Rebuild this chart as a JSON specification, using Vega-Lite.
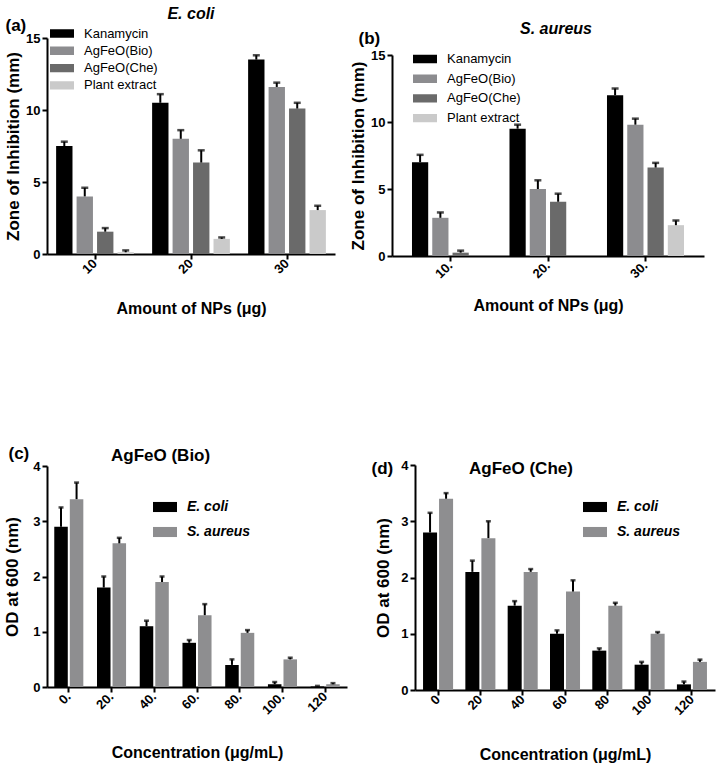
{
  "$schema": "https://vega.github.io/schema/vega-lite/v6.json",
  "background": "white",
  "padding": {"left": 3, "top": 6, "right": 2, "bottom": 2},
  "autosize": {"type": "pad"},
  "config": {
    "font": "Liberation Sans",
    "view": {"stroke": null},
    "axis": {"domainColor": "black", "domainWidth": 2, "tickColor": "black", "tickWidth": 2, "tickSize": 5,
      "labelFont": "Liberation Sans", "labelFontWeight": "bold", "labelFontSize": 13, "labelColor": "black", "labelPadding": 2,
      "titleFont": "Liberation Sans", "titleFontWeight": "bold", "titleFontSize": 16, "titleColor": "black", "grid": false,
      "labelFlush": false, "labelOverlap": false},
    "axisY": {"titleFontSize": 17},
    "title": {"font": "Liberation Sans", "fontWeight": "bold", "fontSize": 16, "color": "black"},
    "legend": {"labelFont": "Liberation Sans", "labelColor": "black", "symbolStrokeWidth": 0, "symbolOpacity": 1, "padding": 0, "labelOffset": 10}
  },
  "datasets": {
    "a": [
      {"amount": "10", "group": "Kanamycin", "value": 7.5, "hi": 7.8},
      {"amount": "10", "group": "AgFeO(Bio)", "value": 4.0, "hi": 4.6},
      {"amount": "10", "group": "AgFeO(Che)", "value": 1.55, "hi": 1.8},
      {"amount": "10", "group": "Plant extract", "value": 0.12, "hi": 0.25},
      {"amount": "20", "group": "Kanamycin", "value": 10.5, "hi": 11.1},
      {"amount": "20", "group": "AgFeO(Bio)", "value": 8.0, "hi": 8.6},
      {"amount": "20", "group": "AgFeO(Che)", "value": 6.35, "hi": 7.2},
      {"amount": "20", "group": "Plant extract", "value": 1.05, "hi": 1.15},
      {"amount": "30", "group": "Kanamycin", "value": 13.5, "hi": 13.8},
      {"amount": "30", "group": "AgFeO(Bio)", "value": 11.6, "hi": 11.9},
      {"amount": "30", "group": "AgFeO(Che)", "value": 10.1, "hi": 10.5},
      {"amount": "30", "group": "Plant extract", "value": 3.05, "hi": 3.35}
    ],
    "b": [
      {"amount": "10.", "group": "Kanamycin", "value": 7.0, "hi": 7.55},
      {"amount": "10.", "group": "AgFeO(Bio)", "value": 2.85, "hi": 3.25},
      {"amount": "10.", "group": "AgFeO(Che)", "value": 0.25, "hi": 0.4},
      {"amount": "10.", "group": "Plant extract", "value": 0, "hi": null},
      {"amount": "20.", "group": "Kanamycin", "value": 9.5, "hi": 9.8},
      {"amount": "20.", "group": "AgFeO(Bio)", "value": 5.0, "hi": 5.65},
      {"amount": "20.", "group": "AgFeO(Che)", "value": 4.05, "hi": 4.65},
      {"amount": "20.", "group": "Plant extract", "value": 0, "hi": null},
      {"amount": "30.", "group": "Kanamycin", "value": 12.0, "hi": 12.5},
      {"amount": "30.", "group": "AgFeO(Bio)", "value": 9.8, "hi": 10.25},
      {"amount": "30.", "group": "AgFeO(Che)", "value": 6.6, "hi": 6.95},
      {"amount": "30.", "group": "Plant extract", "value": 2.3, "hi": 2.65}
    ],
    "c": [
      {"conc": "0.", "org": "E. coli", "value": 2.9, "hi": 3.25},
      {"conc": "0.", "org": "S. aureus", "value": 3.4, "hi": 3.7},
      {"conc": "20.", "org": "E. coli", "value": 1.8, "hi": 2.0},
      {"conc": "20.", "org": "S. aureus", "value": 2.6, "hi": 2.7},
      {"conc": "40.", "org": "E. coli", "value": 1.1, "hi": 1.2},
      {"conc": "40.", "org": "S. aureus", "value": 1.9, "hi": 2.0},
      {"conc": "60.", "org": "E. coli", "value": 0.8, "hi": 0.85},
      {"conc": "60.", "org": "S. aureus", "value": 1.3, "hi": 1.5},
      {"conc": "80.", "org": "E. coli", "value": 0.4, "hi": 0.5},
      {"conc": "80.", "org": "S. aureus", "value": 0.98, "hi": 1.03},
      {"conc": "100.", "org": "E. coli", "value": 0.05, "hi": 0.09},
      {"conc": "100.", "org": "S. aureus", "value": 0.5, "hi": 0.53},
      {"conc": "120", "org": "E. coli", "value": 0.01, "hi": 0.02},
      {"conc": "120", "org": "S. aureus", "value": 0.05, "hi": 0.07}
    ],
    "d": [
      {"conc": "0", "org": "E. coli", "value": 2.8, "hi": 3.15},
      {"conc": "0", "org": "S. aureus", "value": 3.4, "hi": 3.5},
      {"conc": "20", "org": "E. coli", "value": 2.1, "hi": 2.3},
      {"conc": "20", "org": "S. aureus", "value": 2.7, "hi": 3.0},
      {"conc": "40", "org": "E. coli", "value": 1.5, "hi": 1.58},
      {"conc": "40", "org": "S. aureus", "value": 2.1, "hi": 2.15},
      {"conc": "60", "org": "E. coli", "value": 1.0, "hi": 1.06},
      {"conc": "60", "org": "S. aureus", "value": 1.75, "hi": 1.95},
      {"conc": "80", "org": "E. coli", "value": 0.7, "hi": 0.74},
      {"conc": "80", "org": "S. aureus", "value": 1.5, "hi": 1.55},
      {"conc": "100", "org": "E. coli", "value": 0.45, "hi": 0.5},
      {"conc": "100", "org": "S. aureus", "value": 1.0, "hi": 1.03},
      {"conc": "120", "org": "E. coli", "value": 0.1, "hi": 0.15},
      {"conc": "120", "org": "S. aureus", "value": 0.5, "hi": 0.54}
    ]
  },
  "spacing": 127,
  "resolve": {"scale": {"x": "independent", "y": "independent", "xOffset": "independent", "color": "independent"}, "legend": {"color": "independent"}, "axis": {"x": "independent", "y": "independent"}},
  "vconcat": [
    {
      "spacing": 14,
      "resolve": {"scale": {"x": "independent", "y": "independent", "xOffset": "independent", "color": "independent"}, "legend": {"color": "independent"}, "axis": {"x": "independent", "y": "independent"}},
      "hconcat": [
        {
          "width": 288, "height": 216,
          "title": {"text": "E. coli", "fontStyle": "italic", "fontSize": 16, "offset": -6},
          "data": {"name": "a"},
          "resolve": {"axis": {"x": "independent"}},
          "layer": [
            {"mark": {"type": "bar"},
              "encoding": {
                "x": {"field": "amount", "type": "nominal", "sort": null, "title": "Amount of NPs (μg)",
                  "scale": {"paddingInner": 0.19, "paddingOuter": 0.095},
                  "axis": {"labelAngle": -45, "labelAlign": "right", "labelBaseline": "middle", "titlePadding": 24}},
                "xOffset": {"field": "group", "type": "nominal", "sort": null, "scale": {"paddingInner": 0.2, "paddingOuter": 0}},
                "y": {"field": "value", "type": "quantitative", "title": "Zone of Inhibition (mm)", "scale": {"domain": [0, 15], "nice": false}, "axis": {"values": [0, 5, 10, 15], "format": "d", "titlePadding": 3}},
                "color": {"field": "group", "type": "nominal", "sort": null,
                  "scale": {"range": ["#000000", "#8c8c8f", "#6a6a6a", "#cacaca"]},
                  "legend": {"title": null, "orient": "none", "legendX": 3, "legendY": -11, "direction": "vertical", "clipHeight": 13,
                    "symbolType": "M-1,-0.35H1V0.35H-1Z", "symbolSize": 576, "labelFontSize": 13, "rowPadding": 3.3}}
              }},
            {"mark": {"type": "rule", "color": "black", "strokeWidth": 2},
              "encoding": {
                "x": {"field": "amount", "type": "nominal", "sort": null, "axis": null},
                "xOffset": {"field": "group", "type": "nominal", "sort": null},
                "y": {"field": "value", "type": "quantitative", "title": "Zone of Inhibition (mm)"}, "y2": {"field": "hi"}}},
            {"mark": {"type": "tick", "color": "black", "thickness": 2.5, "size": 7},
              "encoding": {
                "x": {"field": "amount", "type": "nominal", "sort": null, "title": "(a)",
                  "axis": {"orient": "top", "domain": false, "ticks": false, "labels": false, "titleAnchor": "start", "titleAlign": "left", "titleBaseline": "top", "titleX": -42, "titleY": -21, "titleFontSize": 17}},
                "xOffset": {"field": "group", "type": "nominal", "sort": null},
                "y": {"field": "hi", "type": "quantitative", "title": "Zone of Inhibition (mm)"}}}
          ]
        },
        {
          "width": 312, "height": 218,
          "title": {"text": "S. aureus", "fontStyle": "italic", "fontSize": 16, "offset": -8, "dx": 8},
          "data": {"name": "b"},
          "resolve": {"axis": {"x": "independent"}},
          "layer": [
            {"mark": {"type": "bar"},
              "encoding": {
                "x": {"field": "amount", "type": "nominal", "sort": null, "title": "Amount of NPs (μg)",
                  "scale": {"paddingInner": 0.21, "paddingOuter": 0.205},
                  "axis": {"labelAngle": -45, "labelAlign": "right", "labelBaseline": "middle", "titlePadding": 17}},
                "xOffset": {"field": "group", "type": "nominal", "sort": null, "scale": {"paddingInner": 0.2, "paddingOuter": 0}},
                "y": {"field": "value", "type": "quantitative", "title": "Zone of Inhibition (mm)", "scale": {"domain": [0, 15], "nice": false, "range": [218, 17]}, "axis": {"values": [0, 5, 10, 15], "format": "d", "titlePadding": 3}},
                "color": {"field": "group", "type": "nominal", "sort": null,
                  "scale": {"range": ["#000000", "#8c8c8f", "#6a6a6a", "#cacaca"]},
                  "legend": {"title": null, "orient": "none", "legendX": 21, "legendY": 14.5, "direction": "vertical", "clipHeight": 13,
                    "symbolType": "M-1,-0.35H1V0.35H-1Z", "symbolSize": 576, "labelFontSize": 13, "rowPadding": 5.7}}
              }},
            {"mark": {"type": "rule", "color": "black", "strokeWidth": 2},
              "encoding": {
                "x": {"field": "amount", "type": "nominal", "sort": null, "axis": null},
                "xOffset": {"field": "group", "type": "nominal", "sort": null},
                "y": {"field": "value", "type": "quantitative", "title": "Zone of Inhibition (mm)"}, "y2": {"field": "hi"}}},
            {"mark": {"type": "tick", "color": "black", "thickness": 2.5, "size": 7},
              "encoding": {
                "x": {"field": "amount", "type": "nominal", "sort": null, "title": "(b)",
                  "axis": {"orient": "top", "domain": false, "ticks": false, "labels": false, "titleAnchor": "start", "titleAlign": "left", "titleBaseline": "top", "titleX": -34, "titleY": -8, "titleFontSize": 17}},
                "xOffset": {"field": "group", "type": "nominal", "sort": null},
                "y": {"field": "hi", "type": "quantitative", "title": "Zone of Inhibition (mm)"}}}
          ]
        }
      ]
    },
    {
      "spacing": 24,
      "resolve": {"scale": {"x": "independent", "y": "independent", "xOffset": "independent", "color": "independent"}, "legend": {"color": "independent"}, "axis": {"x": "independent", "y": "independent"}},
      "hconcat": [
        {
          "width": 300, "height": 222,
          "title": {"text": "AgFeO (Bio)", "anchor": "start", "frame": "group", "fontSize": 17, "offset": -21, "dx": 64},
          "data": {"name": "c"},
          "resolve": {"axis": {"x": "independent"}},
          "layer": [
            {"mark": {"type": "bar"},
              "encoding": {
                "x": {"field": "conc", "type": "nominal", "sort": null, "title": "Concentration (μg/mL)",
                  "scale": {"paddingInner": 0.32, "paddingOuter": 0.17},
                  "axis": {"labelAngle": -45, "labelAlign": "right", "labelBaseline": "middle", "titlePadding": 28}},
                "xOffset": {"field": "org", "type": "nominal", "sort": null, "scale": {"paddingInner": 0.13, "paddingOuter": 0}},
                "y": {"field": "value", "type": "quantitative", "title": "OD at 600 (nm)", "scale": {"domain": [0, 4], "nice": false, "range": [222, 1]}, "axis": {"values": [0, 1, 2, 3, 4], "format": "d", "titlePadding": 11}},
                "color": {"field": "org", "type": "nominal", "sort": null,
                  "scale": {"range": ["#000000", "#8e8e90"]},
                  "legend": {"title": null, "orient": "none", "legendX": 106, "legendY": 35, "direction": "vertical", "clipHeight": 14,
                    "symbolType": "M-1,-0.42H1V0.42H-1Z", "symbolSize": 576, "labelFontSize": 14, "labelFontWeight": "bold", "labelFontStyle": "italic", "rowPadding": 11}}
              }},
            {"mark": {"type": "rule", "color": "black", "strokeWidth": 2},
              "encoding": {
                "x": {"field": "conc", "type": "nominal", "sort": null, "axis": null},
                "xOffset": {"field": "org", "type": "nominal", "sort": null},
                "y": {"field": "value", "type": "quantitative", "title": "OD at 600 (nm)"}, "y2": {"field": "hi"}}},
            {"mark": {"type": "tick", "color": "black", "thickness": 2.5, "size": 5},
              "encoding": {
                "x": {"field": "conc", "type": "nominal", "sort": null, "title": "(c)",
                  "axis": {"orient": "top", "domain": false, "ticks": false, "labels": false, "titleAnchor": "start", "titleAlign": "left", "titleBaseline": "top", "titleX": -39, "titleY": -20, "titleFontSize": 17}},
                "xOffset": {"field": "org", "type": "nominal", "sort": null},
                "y": {"field": "hi", "type": "quantitative", "title": "OD at 600 (nm)"}}}
          ]
        },
        {
          "width": 300, "height": 225,
          "title": {"text": "AgFeO (Che)", "anchor": "start", "frame": "group", "fontSize": 17, "offset": -19, "dx": 54},
          "data": {"name": "d"},
          "resolve": {"axis": {"x": "independent"}},
          "layer": [
            {"mark": {"type": "bar"},
              "encoding": {
                "x": {"field": "conc", "type": "nominal", "sort": null, "title": "Concentration (μg/mL)",
                  "scale": {"paddingInner": 0.29, "paddingOuter": 0.19},
                  "axis": {"labelAngle": -45, "labelAlign": "right", "labelBaseline": "middle", "titlePadding": 29}},
                "xOffset": {"field": "org", "type": "nominal", "sort": null, "scale": {"paddingInner": 0.125, "paddingOuter": 0}},
                "y": {"field": "value", "type": "quantitative", "title": "OD at 600 (nm)", "scale": {"domain": [0, 4], "nice": false}, "axis": {"values": [0, 1, 2, 3, 4], "format": "d", "titlePadding": 8}},
                "color": {"field": "org", "type": "nominal", "sort": null,
                  "scale": {"range": ["#000000", "#8e8e90"]},
                  "legend": {"title": null, "orient": "none", "legendX": 168, "legendY": 35, "direction": "vertical", "clipHeight": 14,
                    "symbolType": "M-1,-0.42H1V0.42H-1Z", "symbolSize": 576, "labelFontSize": 14, "labelFontWeight": "bold", "labelFontStyle": "italic", "rowPadding": 11}}
              }},
            {"mark": {"type": "rule", "color": "black", "strokeWidth": 2},
              "encoding": {
                "x": {"field": "conc", "type": "nominal", "sort": null, "axis": null},
                "xOffset": {"field": "org", "type": "nominal", "sort": null},
                "y": {"field": "value", "type": "quantitative", "title": "OD at 600 (nm)"}, "y2": {"field": "hi"}}},
            {"mark": {"type": "tick", "color": "black", "thickness": 2.5, "size": 5},
              "encoding": {
                "x": {"field": "conc", "type": "nominal", "sort": null, "title": "(d)",
                  "axis": {"orient": "top", "domain": false, "ticks": false, "labels": false, "titleAnchor": "start", "titleAlign": "left", "titleBaseline": "top", "titleX": -44, "titleY": -5, "titleFontSize": 17}},
                "xOffset": {"field": "org", "type": "nominal", "sort": null},
                "y": {"field": "hi", "type": "quantitative", "title": "OD at 600 (nm)"}}}
          ]
        }
      ]
    }
  ]
}
